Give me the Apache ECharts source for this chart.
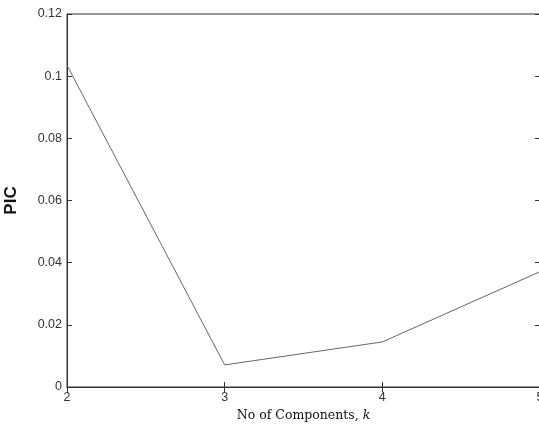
<!DOCTYPE html>
<html>
<head>
<meta charset="utf-8">
<script src="https://cdn.jsdelivr.net/npm/echarts@6/dist/echarts.min.js"></script>
<style>
  html, body { margin: 0; padding: 0; background: #fff; }
  #chart { width: 539px; height: 427px; }
</style>
</head>
<body>
<div id="chart"></div>
<script>
  // data
  var ks = [2, 3, 4, 5];
  var pic = [0.1035, 0.0071, 0.0145, 0.0371];

  var points = ks.map(function (k, i) { return [k, pic[i]]; });

  var chart = echarts.init(document.getElementById('chart'));

  var tickLabel = { color: '#333', fontFamily: 'Liberation Sans, Arial', fontSize: 12.5 };

  var option = {
    animation: false,
    backgroundColor: '#fff',
    grid: {
      left: 67, right: -1, top: 14, bottom: 40,
      outerBoundsMode: 'none', containLabel: false,
      show: true, borderColor: '#333', borderWidth: 1
    },
    xAxis: [{
      type: 'value', min: 2, max: 5, interval: 1,
      name: 'No of Components, {k|k}',
      nameLocation: 'middle', nameGap: 18,
      nameTextStyle: {
        fontFamily: 'DejaVu Serif', fontSize: 12.5, color: '#111',
        rich: { k: { fontFamily: 'DejaVu Serif', fontStyle: 'italic', fontSize: 12.5, color: '#111' } }
      },
      axisLine: { lineStyle: { color: '#333' } },
      axisTick: { inside: true, length: 5, lineStyle: { color: '#333' } },
      axisLabel: Object.assign({ margin: 4, showMaxLabel: true }, tickLabel),
      splitLine: { show: false }
    }, {
      type: 'value', min: 2, max: 5, interval: 1, position: 'top',
      axisLine: { lineStyle: { color: '#333' } },
      axisTick: { inside: true, length: 5, lineStyle: { color: '#333' } },
      axisLabel: { show: false },
      splitLine: { show: false }
    }],
    yAxis: [{
      type: 'value', min: 0, max: 0.12, interval: 0.02,
      name: 'PIC',
      nameLocation: 'middle', nameGap: 47,
      nameTextStyle: { fontFamily: 'Liberation Sans, Arial', fontSize: 17, fontWeight: 'bold', color: '#111' },
      axisLine: { show: true, lineStyle: { color: '#333' } },
      axisTick: { show: true, inside: true, length: 5, lineStyle: { color: '#333' } },
      axisLabel: Object.assign({ margin: 5 }, tickLabel),
      splitLine: { show: false }
    }, {
      type: 'value', min: 0, max: 0.12, interval: 0.02, position: 'right',
      axisLine: { show: true, lineStyle: { color: '#333' } },
      axisTick: { show: true, inside: true, length: 5, lineStyle: { color: '#333' } },
      axisLabel: { show: false },
      splitLine: { show: false }
    }],
    series: [{
      type: 'line',
      data: points,
      symbol: 'none',
      lineStyle: { color: '#666', width: 1 }
    }]
  };

  chart.setOption(option);
</script>
</body>
</html>
